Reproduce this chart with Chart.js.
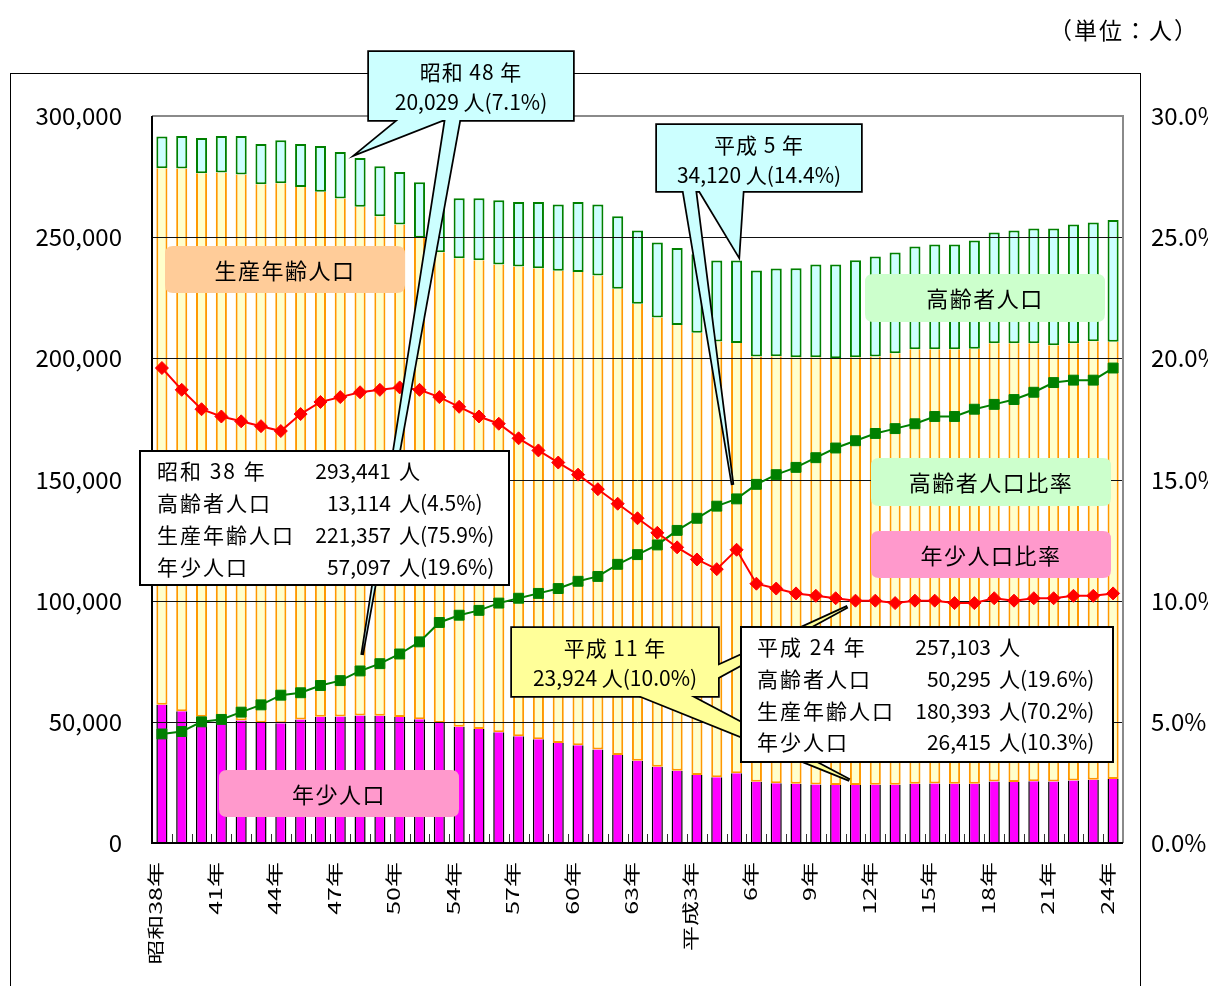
<!DOCTYPE html>
<html><head><meta charset="utf-8">
<script src="https://cdn.jsdelivr.net/npm/chart.js@4.4.1/dist/chart.umd.min.js"></script>
<style>html,body{margin:0;padding:0;background:#fff;}#wrap{width:1208px;height:986px;}</style>
</head><body><div id="wrap"><canvas id="c" width="1208" height="986"></canvas></div>
<script>
const categories = ['昭和38年','昭和39年','昭和40年','昭和41年','昭和42年','昭和43年','昭和44年','昭和45年','昭和46年','昭和47年',
 '昭和48年','昭和49年','昭和50年','昭和51年','昭和52年','昭和54年','昭和55年','昭和56年','昭和57年','昭和58年',
 '昭和59年','昭和60年','昭和61年','昭和62年','昭和63年','平成元年','平成2年','平成3年','平成4年','平成5年',
 '平成6年','平成7年','平成8年','平成9年','平成10年','平成11年','平成12年','平成13年','平成14年','平成15年',
 '平成16年','平成17年','平成18年','平成19年','平成20年','平成21年','平成22年','平成23年','平成24年'];
const tickLabels = ['昭和38年','','','41年','','','44年','','','47年','','','50年','','','54年','','','57年','','','60年','','','63年',
 '','','平成3年','','','6年','','','9年','','','12年','','','15年','','','18年','','','21年','','','24年'];
const youngPop = [57097,54400,52100,51200,50600,49600,49400,51000,52100,52200,
 52600,52500,52000,51100,49500,48000,47000,45700,44000,42800,
 41300,40300,38600,36300,33900,31500,29800,28100,27100,28800,
 25300,24700,24400,24100,23900,23924,24000,24000,24400,24600,
 24400,24500,25400,25200,25500,25400,25800,26100,26415];
const workingPop = [221357,223900,224300,225500,225300,222200,222800,219700,216600,213800,
 210000,206100,203200,198700,194300,193300,193500,193000,193900,194400,
 194800,195300,195600,192400,188600,185400,184000,182500,179800,177500,
 175500,176200,176000,176300,176100,176500,176800,178100,179300,179100,
 179300,179500,180800,181000,180700,180000,180400,180900,180393];
const elderlyPop = [13114,13400,14500,15000,15800,16600,17800,17700,18900,19100,
 20029,20700,21700,22900,24300,24800,25600,26500,26600,27300,
 27400,28900,29300,29900,30300,30900,31700,32300,33500,34120,
 35400,36200,36800,38300,38700,40000,41200,41600,42500,43300,
 43300,44600,45700,46600,47400,48200,49000,49100,50295];
const elderlyRatio = [4.5,4.6,5.0,5.1,5.4,5.7,6.1,6.2,6.5,6.7,
 7.1,7.4,7.8,8.3,9.1,9.4,9.6,9.9,10.1,10.3,
 10.5,10.8,11.0,11.5,11.9,12.3,12.9,13.4,13.9,14.2,
 14.8,15.2,15.5,15.9,16.3,16.6,16.9,17.1,17.3,17.6,
 17.6,17.9,18.1,18.3,18.6,19.0,19.1,19.1,19.6];
const youngRatio = [19.6,18.7,17.9,17.6,17.4,17.2,17.0,17.7,18.2,18.4,
 18.6,18.7,18.8,18.7,18.4,18.0,17.6,17.3,16.7,16.2,
 15.7,15.2,14.6,14.0,13.4,12.8,12.2,11.7,11.3,12.1,
 10.7,10.5,10.3,10.2,10.1,10.0,10.0,9.9,10.0,10.0,
 9.9,9.9,10.1,10.0,10.1,10.1,10.2,10.2,10.3];
const unitText = '（単位：人）';
const info1Rows = [['昭和 38 年','293,441','人'],['高齢者人口','13,114','人(4.5%)'],['生産年齢人口','221,357','人(75.9%)'],['年少人口','57,097','人(19.6%)']];
const info2Rows = [['平成 24 年','257,103','人'],['高齢者人口','50,295','人(19.6%)'],['生産年齢人口','180,393','人(70.2%)'],['年少人口','26,415','人(10.3%)']];
const callout48Text = ['昭和 48 年','20,029 人(7.1%)'];
const calloutH5Text = ['平成 5 年','34,120 人(14.4%)'];
const calloutH11Text = ['平成 11 年','23,924 人(10.0%)'];

const FONT = "'Noto Sans CJK JP','Noto Sans',sans-serif";
const f = px => px + 'px ' + FONT;
Chart.defaults.font.family = FONT;

function setLS(ctx, v){ if ('letterSpacing' in ctx) ctx.letterSpacing = v + 'px'; }
function txt(ctx, s, x, y, px, align, ls){
  ctx.font = f(px); ctx.textAlign = align || 'left'; ctx.textBaseline = 'middle';
  ctx.fillStyle = '#000'; setLS(ctx, ls || 0); ctx.fillText(s, x, y); setLS(ctx, 0);
}
function rrect(ctx, x, y, w, h, r){
  ctx.beginPath(); ctx.moveTo(x + r, y); ctx.lineTo(x + w - r, y); ctx.quadraticCurveTo(x + w, y, x + w, y + r);
  ctx.lineTo(x + w, y + h - r); ctx.quadraticCurveTo(x + w, y + h, x + w - r, y + h);
  ctx.lineTo(x + r, y + h); ctx.quadraticCurveTo(x, y + h, x, y + h - r);
  ctx.lineTo(x, y + r); ctx.quadraticCurveTo(x, y, x + r, y); ctx.closePath();
}
function callout(ctx, box, tails, fill, lines){
  ctx.save();
  ctx.strokeStyle = '#000'; ctx.lineWidth = 3.5; ctx.lineJoin = 'miter';
  const tp = t => { ctx.beginPath(); ctx.moveTo(t[0][0], t[0][1]); ctx.lineTo(t[1][0], t[1][1]); ctx.lineTo(t[2][0], t[2][1]); ctx.closePath(); };
  tails.forEach(t => { tp(t); ctx.stroke(); });
  ctx.strokeRect(box.x, box.y, box.w, box.h);
  ctx.fillStyle = fill;
  tails.forEach(t => { tp(t); ctx.fill(); });
  ctx.fillRect(box.x, box.y, box.w, box.h);
  const cx = box.x + box.w / 2;
  txt(ctx, lines[0], cx, box.y + 20, 21, 'center', 1);
  txt(ctx, lines[1], cx, box.y + 50, 21, 'center', 0);
  ctx.restore();
}
function infoBox(ctx, x, y, w, h, rows, lx, nx, rowY){
  ctx.save();
  ctx.fillStyle = '#fff'; ctx.fillRect(x, y, w, h);
  ctx.strokeStyle = '#000'; ctx.lineWidth = 2; ctx.strokeRect(x, y, w, h);
  rows.forEach((r, i) => {
    const yy = rowY[i];
    txt(ctx, r[0], lx, yy, 21, 'left', 2);
    txt(ctx, r[1], nx, yy, 21, 'right', 0);
    txt(ctx, r[2], nx + 8, yy, 21, 'left', 0);
  });
  ctx.restore();
}

const decor = {
  id: 'decor',
  beforeDraw(chart){
    const ctx = chart.ctx;
    ctx.save();
    ctx.fillStyle = '#fff'; ctx.fillRect(0, 0, chart.width, chart.height);
    ctx.strokeStyle = '#000'; ctx.lineWidth = 1;
    ctx.strokeRect(10.5, 73.5, 1130, 940);
    ctx.restore();
  },
  afterDatasetDraw(chart, args){
    if (args.index !== 0) return;
    const ctx = chart.ctx, a = chart.chartArea, y = chart.scales.y, x = chart.scales.x;
    ctx.save();
    ctx.strokeStyle = '#111'; ctx.lineWidth = 1;
    y.ticks.forEach(t => {
      if (t.value <= y.min || t.value >= y.max) return;
      const py = Math.round(y.getPixelForValue(t.value)) + 0.5;
      ctx.beginPath(); ctx.moveTo(a.left, py); ctx.lineTo(a.right, py); ctx.stroke();
    });
    const half = (x.getPixelForValue(1) - x.getPixelForValue(0)) / 2;
    ctx.strokeStyle = '#333'; ctx.lineWidth = 1;
    for (let i = 1; i < categories.length; i++){
      const px = Math.round(x.getPixelForValue(i) - half) + 0.5;
      ctx.beginPath(); ctx.moveTo(px, a.bottom); ctx.lineTo(px, a.bottom - 9); ctx.stroke();
    }
    ctx.lineWidth = 2;
    ctx.strokeStyle = '#8a8a8a';
    ctx.beginPath(); ctx.moveTo(a.left, a.top); ctx.lineTo(a.right, a.top); ctx.lineTo(a.right, a.bottom); ctx.stroke();
    ctx.strokeStyle = '#000';
    ctx.beginPath(); ctx.moveTo(a.left, a.top); ctx.lineTo(a.left, a.bottom); ctx.lineTo(a.right, a.bottom); ctx.stroke();
    ctx.restore();
  },
  afterDraw(chart){
    const ctx = chart.ctx, xs = chart.scales.x, ys = chart.scales.y, y2 = chart.scales.y2;
    ctx.save();
    txt(ctx, unitText, 1199, 30, 23, 'right', 2);
    ctx.font = f(25); ctx.textAlign = 'right'; ctx.textBaseline = 'middle'; ctx.fillStyle = '#000';
    tickLabels.forEach((s, i) => {
      if (!s) return;
      const px = xs.getPixelForValue(i) - 6;
      ctx.save(); ctx.translate(px, 862); ctx.rotate(-Math.PI / 2); ctx.scale(1, 0.68);
      ctx.fillText(s, 0, 0); ctx.restore();
    });
    const labelBoxes = [
      ['生産年齢人口', 165, 246, 240, 47, '#FFCC99'],
      ['高齢者人口', 865, 274, 240, 48, '#CCFFCC'],
      ['高齢者人口比率', 871, 458, 240, 48, '#CCFFCC'],
      ['年少人口比率', 871, 531, 240, 47, '#FF99CC'],
      ['年少人口', 219, 770, 240, 47, '#FF99CC']
    ];
    labelBoxes.forEach(b => {
      ctx.fillStyle = b[5]; rrect(ctx, b[1], b[2], b[3], b[4], 8); ctx.fill();
      txt(ctx, b[0], b[1] + b[3] / 2, b[2] + b[4] / 2 + 1, 22, 'center', 1.5);
    });
    const totalAt = i => youngPop[i] + workingPop[i] + elderlyPop[i];
    const i48 = 10, iH5 = 29, iH11 = 35;
    const t48a = [xs.getPixelForValue(i48) - 2, ys.getPixelForValue(totalAt(i48)) - 5];
    const t48b = [xs.getPixelForValue(i48) + 2, y2.getPixelForValue(elderlyRatio[i48]) - 16];
    callout(ctx, {x: 369, y: 52, w: 204, h: 68},
      [[[402, 117], t48a, [450, 117]], [[446, 117], t48b, [460, 117]]], '#CCFFFF', callout48Text);
    const tH5a = [xs.getPixelForValue(iH5) + 2, ys.getPixelForValue(totalAt(iH5)) - 5];
    const tH5b = [xs.getPixelForValue(iH5) - 4, y2.getPixelForValue(elderlyRatio[iH5]) - 14];
    callout(ctx, {x: 657, y: 125, w: 204, h: 66},
      [[[698, 188], tH5a, [743, 188]], [[683, 188], tH5b, [695, 188]]], '#CCFFFF', calloutH5Text);
    const tH11a = [xs.getPixelForValue(iH11) - 6, ys.getPixelForValue(youngPop[iH11]) - 5];
    const tH11b = [xs.getPixelForValue(iH11) - 8, y2.getPixelForValue(youngRatio[iH11]) + 6];
    callout(ctx, {x: 512, y: 628, w: 206, h: 68},
      [[[633, 693], tH11a, [685, 693]], [[715, 667], tH11b, [715, 679]]], '#FFFF99', calloutH11Text);
    infoBox(ctx, 140, 451, 369, 134, info1Rows, 157, 391, [471, 503, 535, 567]);
    infoBox(ctx, 741, 627, 372, 135, info2Rows, 757, 991, [647, 679, 711, 742]);
    ctx.restore();
  }
};

const barCommon = { type: 'bar', yAxisID: 'y', stack: 'pop', barPercentage: 0.56, categoryPercentage: 1, borderSkipped: false, order: 0, inflateAmount: 0 };
new Chart(document.getElementById('c'), {
  data: {
    labels: categories,
    datasets: [
      Object.assign({}, barCommon, { label: '年少人口', data: youngPop, backgroundColor: '#FF00FF', borderColor: '#000000', borderWidth: {left: 1.5, right: 1.5, top: 0, bottom: 0} }),
      Object.assign({}, barCommon, { label: '生産年齢人口', data: workingPop, backgroundColor: '#FFFFCC', borderColor: '#FF9900', borderWidth: {left: 2, right: 2, top: 0, bottom: 2} }),
      Object.assign({}, barCommon, { label: '高齢者人口', data: elderlyPop, backgroundColor: '#CCFFFF', borderColor: '#008000', borderWidth: 2 }),
      { type: 'line', label: '高齢者人口比率', data: elderlyRatio, yAxisID: 'y2', order: -1, borderColor: '#008000', backgroundColor: '#008000',
        borderWidth: 2, pointStyle: 'rect', pointRadius: 7, pointBackgroundColor: '#008000', pointBorderColor: '#008000', pointBorderWidth: 1, tension: 0 },
      { type: 'line', label: '年少人口比率', data: youngRatio, yAxisID: 'y2', order: -2, borderColor: '#FF0000', backgroundColor: '#FF0000',
        borderWidth: 2, pointStyle: 'rectRot', pointRadius: 6.5, pointBackgroundColor: '#FF0000', pointBorderColor: '#FF0000', pointBorderWidth: 1, tension: 0 }
    ]
  },
  options: {
    responsive: false, animation: false, events: [],
    layout: { padding: { top: 116, left: 0, right: 0, bottom: 0 } },
    plugins: { legend: { display: false }, tooltip: { enabled: false } },
    scales: {
      x: { type: 'category', stacked: true, offset: true, grid: { display: false }, border: { display: false },
           ticks: { display: false }, afterFit: s => { s.height = 143; } },
      y: { position: 'left', stacked: true, min: 0, max: 300000, grid: { display: false }, border: { display: false },
           ticks: { stepSize: 50000, padding: 22, color: '#000', font: { size: 24, family: FONT }, callback: v => v.toLocaleString('en-US') },
           afterFit: s => { s.width = 152; } },
      y2: { position: 'right', min: 0, max: 30, grid: { display: false }, border: { display: false },
           ticks: { stepSize: 5, padding: 20, color: '#000', font: { size: 24, family: FONT }, callback: v => v.toFixed(1) + '%' },
           afterFit: s => { s.width = 85; } }
    }
  },
  plugins: [decor]
});
</script>
</body></html>
